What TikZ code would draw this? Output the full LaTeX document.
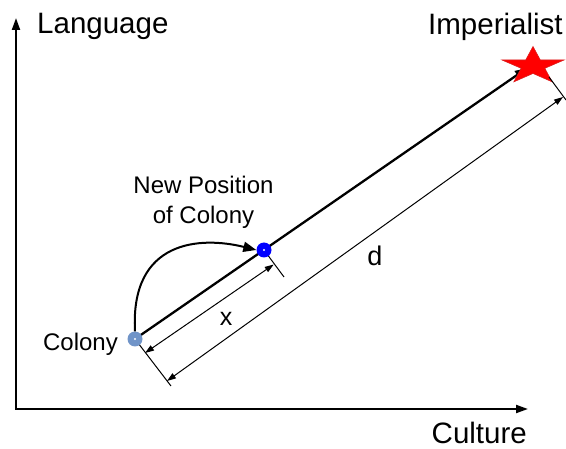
\documentclass[tikz,border=0pt]{standalone}
\usepackage{fontspec}
\setmainfont{Liberation Sans}
\usetikzlibrary{arrows.meta,calc}
\definecolor{colonyblue}{RGB}{112,148,200}
\definecolor{starred}{RGB}{255,0,0}
\definecolor{staredge}{RGB}{220,30,30}
\tikzset{
  axisline/.style={line width=2pt,-{Triangle[length=12pt,width=8pt]}},
  mainline/.style={line width=2.3pt,-{Triangle[length=12pt,width=9pt]}},
  curvearrow/.style={line width=2pt,-{Triangle[length=13pt,width=10pt]}},
  dimline/.style={line width=1pt,{Triangle[length=9pt,width=6pt]}-{Triangle[length=9pt,width=6pt]}},
  extline/.style={line width=1pt},
  bigtext/.style={inner sep=0pt,font=\fontsize{29.5}{35}\selectfont},
  midtext/.style={inner sep=0pt,font=\fontsize{24}{29}\selectfont},
  dot/.style={circle,inner sep=0pt,minimum size=15pt},
}
\begin{document}
\begin{tikzpicture}[x=1pt,y=-1pt]
\useasboundingbox (0,0) rectangle (566,449);
% axes
\coordinate (origin) at (16,409);
\coordinate (ytip) at (16,18);
\coordinate (xtip) at (528,409);
\draw[axisline] ($(origin)+(0,1)$) -- (ytip);
\draw[axisline] ($(origin)+(-1,0)$) -- (xtip);
% axis labels
\node[bigtext,anchor=base west] (lang) at (37,34) {Language};
\node[bigtext,anchor=base west] (impl) at (428,35) {Imperialist};
\node[bigtext,anchor=base east] (cult) at (527,444) {Culture};
% key points
\coordinate (imp) at (533,64);
\coordinate (colc) at (135,339);
\coordinate (newc) at (264,250);
\coordinate (mainend) at ($(colc)!0.985!(imp)$);
% main line (under star and dots)
\draw[mainline] (colc) -- (mainend);
% star
\filldraw[fill=starred,draw=staredge,line width=0.6pt]
  (533,46.5) -- (525.7,60.0) -- (502.0,60.0) -- (521.2,68.3) -- (513.9,81.8)
  -- (533,73.45) -- (552.1,81.8) -- (544.8,68.3) -- (564.0,60.0) -- (540.3,60.0) -- cycle;
% extension lines
\coordinate (colext) at (171,386);
\coordinate (newext) at (284,277);
\coordinate (starextA) at (549,77);
\coordinate (starextB) at (566,100);
\draw[extline] (colc) -- (colext);
\draw[extline] (newc) -- (newext);
\draw[extline] (starextA) -- (starextB);
% dimension lines
\coordinate (xa) at (145,353);
\coordinate (xb) at (273.7,264.5);
\coordinate (da) at (167,381);
\coordinate (db) at (563,97);
\draw[dimline] (xa) -- (xb);
\draw[dimline] (da) -- (db);
% dots
\node[dot,fill=colonyblue] (col) at (colc) {};
\fill[white] (colc) circle (1.2pt);
\node[dot,fill=blue] (newp) at (newc) {};
\fill[white] (newc) circle (1.2pt);
% curved move arrow
\draw[curvearrow] (col.north) .. controls (130,240) and (200,236) .. (newp.west);
% labels
\node[midtext,anchor=base east] (coltext) at (118,351) {Colony};
\node[midtext,anchor=base] (np1) at (203.5,194) {New Position};
\node[midtext,anchor=base] (np2) at (203.5,224) {of Colony};
\node[inner sep=0pt,font=\fontsize{25}{30}\selectfont,anchor=base] (xlab) at (226,326) {x};
\node[inner sep=0pt,font=\fontsize{27}{32}\selectfont,anchor=base] (dlab) at (375,266) {d};
\end{tikzpicture}
\end{document}
